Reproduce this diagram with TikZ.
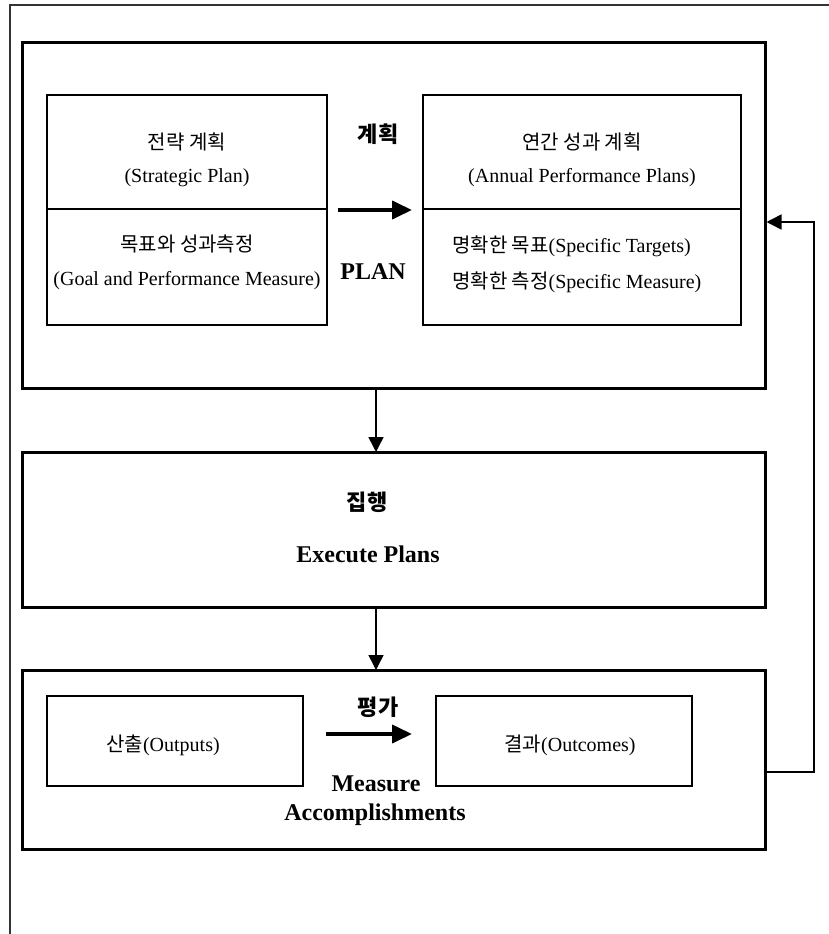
\documentclass[tikz,border=0pt]{standalone}
\usepackage{fontspec}
\setmainfont{Liberation Serif}
\newfontfamily\kr{Noto Sans CJK KR}
\usetikzlibrary{arrows.meta}
\begin{document}
\begin{tikzpicture}[x=1pt,y=-1pt,
  stage/.style={draw, line width=3pt, inner sep=0pt, outer sep=0pt},
  cell/.style={draw, line width=1.2pt, inner sep=0pt, outer sep=0pt},
  txt/.style={inner sep=0pt, font=\fontsize{20}{24}\selectfont},
  ttl/.style={inner sep=0pt, font=\fontsize{24}{28}\selectfont\bfseries},
  kttl/.style={inner sep=0pt, font=\fontsize{22}{26}\selectfont\kr\bfseries},
  flow/.style={line width=1.5pt, -{Triangle[length=15pt,width=15pt]}},
  bigflow/.style={line width=4pt, -{Triangle[length=20pt,width=18pt]}},
  frame/.style={line width=1.5pt, draw=black!80},
]
\useasboundingbox (0,0) rectangle (829,934);

% page frame
\coordinate (fTR) at (829,5);
\coordinate (fTL) at (10,5);
\coordinate (fBL) at (10,934);
\draw[frame] (fTR) -- (fTL) -- (fBL);

% ---- stage boxes ----
\node[stage, minimum width=743pt, minimum height=345pt] (plan) at (393.5,215.5) {};
\node[stage, minimum width=743pt, minimum height=155pt] (exec) at (393.5,529.5) {};
\node[stage, minimum width=743pt, minimum height=179pt] (meas) at (393.5,759.5) {};

% ---- planning cells ----
\node[cell, minimum width=280pt, minimum height=114pt] (stratA) at (187,152) {};
\node[cell, minimum width=280pt, minimum height=116pt] (stratB) at (187,267) {};
\node[cell, minimum width=318pt, minimum height=114pt] (annA) at (582,152) {};
\node[cell, minimum width=318pt, minimum height=116pt] (annB) at (582,267) {};

\node[txt] (t1) at (187,142) {\kr 전략 계획};
\node[txt] (t2) at (187,178) {(Strategic Plan)};
\node[txt] (t3) at (187,244) {\kr 목표와 성과측정};
\node[txt] (t4) at (187,281) {(Goal and Performance Measure)};

\node[txt] (t5) at (582,142) {\kr 연간 성과 계획};
\node[txt] (t6) at (582,178) {(Annual Performance Plans)};
\node[txt, anchor=west] (t7) at (452,246) {{\kr 명확한 목표}(Specific Targets)};
\node[txt, anchor=west] (t8) at (452,282) {{\kr 명확한 측정}(Specific Measure)};

\node[kttl] (planK) at (378,134) {계획};
\node[ttl] (planE) at (373,272) {PLAN};

\coordinate (pa1) at (338,210);
\coordinate (pa2) at (412,210);
\draw[bigflow] (pa1) -- (pa2);

% ---- execution ----
\node[kttl] (execK) at (367,502) {집행};
\node[ttl] (execE) at (368,554) {Execute Plans};

% ---- measurement cells ----
\node[cell, minimum width=256pt, minimum height=90pt] (outp) at (175,741) {};
\node[cell, minimum width=256pt, minimum height=90pt] (outc) at (564,741) {};
\node[txt] (t9) at (163,745) {{\kr 산출}(Outputs)};
\node[txt] (t10) at (570,745) {{\kr 결과}(Outcomes)};

\node[kttl] (measK) at (378,707) {평가};
\node[ttl] (measE1) at (376,784) {Measure};
\node[ttl] (measE2) at (375,815) {Accomplishments};

\coordinate (ma1) at (326,734);
\coordinate (ma2) at (412,734);
\draw[bigflow] (ma1) -- (ma2);

% ---- flow between stages ----
\coordinate (ax) at (376,0);
\draw[flow] (plan.south -| ax) -- (exec.north -| ax);
\draw[flow] (exec.south -| ax) -- (meas.north -| ax);

% feedback loop
\coordinate (fbA) at (814,772);
\coordinate (fbB) at (814,222);
\draw[flow] (meas.east |- fbA) -- (fbA) -- (fbB) -- ([xshift=1.5pt]plan.east |- fbB);
\end{tikzpicture}
\end{document}
